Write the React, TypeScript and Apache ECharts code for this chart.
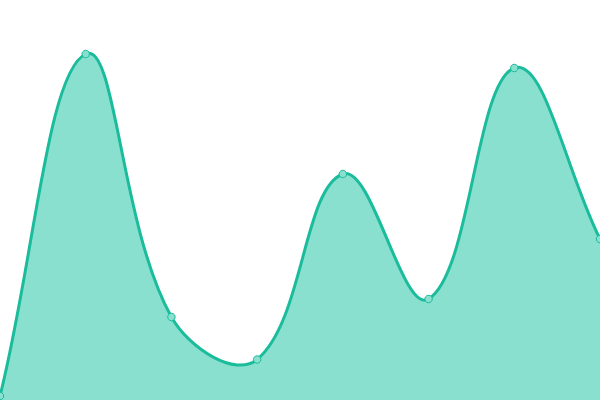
import React from 'react';
import * as echarts from 'echarts';

const categories = ['1', '2', '3', '4', '5', '6', '7', '8'];
const values = [4, 346, 83, 40.5, 226, 101, 332, 161];

const LINE_COLOR = '#1abc9c';
const FILL_COLOR = '#8ae0cf';
const TENSION = 0.4;

// cardinal spline through the points, same as a tension-based bezier line
const splinePath = (pts: number[][]) => {
  const cps = pts.map((cur, i) => {
    const prev = pts[i - 1] || cur;
    const next = pts[i + 1] || cur;
    const d01 = Math.hypot(cur[0] - prev[0], cur[1] - prev[1]);
    const d12 = Math.hypot(next[0] - cur[0], next[1] - cur[1]);
    const sum = d01 + d12 || 1;
    const fa = (TENSION * d01) / sum;
    const fb = (TENSION * d12) / sum;
    return {
      prev: [cur[0] - fa * (next[0] - prev[0]), cur[1] - fa * (next[1] - prev[1])],
      next: [cur[0] + fb * (next[0] - prev[0]), cur[1] + fb * (next[1] - prev[1])],
    };
  });
  let d = `M${pts[0][0]},${pts[0][1]}`;
  for (let i = 1; i < pts.length; i++) {
    const a = cps[i - 1].next;
    const b = cps[i].prev;
    d += ` C${a[0]},${a[1]} ${b[0]},${b[1]} ${pts[i][0]},${pts[i][1]}`;
  }
  return d;
};

const App = () => {
  const chartRef = React.useRef<HTMLDivElement>(null);

  React.useEffect(() => {
    document.body.style.margin = '0';
    const myChart = echarts.init(chartRef.current, null, { renderer: 'svg' });

    myChart.setOption({
      animation: false,
      grid: { left: 0, right: 0, top: 0, bottom: 0 },
      xAxis: {
        type: 'category',
        data: categories,
        boundaryGap: false,
        show: false,
      },
      yAxis: {
        type: 'value',
        min: 0,
        max: 400,
        show: false,
      },
      series: [
        {
          type: 'custom',
          clip: true,
          data: values.map((v, i) => [i, v]),
          renderItem: (params: any, api: any) => {
            if (params.dataIndex !== 0) return null;
            const pts = values.map((v, i) => api.coord([i, v]));
            const line = splinePath(pts);
            const base = api.coord([0, 0])[1];
            const last = pts[pts.length - 1];
            const area = `${line} L${last[0]},${base} L${pts[0][0]},${base} Z`;
            return {
              type: 'group',
              children: [
                { type: 'path', shape: { pathData: area }, style: { fill: FILL_COLOR, stroke: null } },
                {
                  type: 'path',
                  shape: { pathData: line },
                  style: { fill: null, stroke: LINE_COLOR, lineWidth: 3 },
                },
              ],
            };
          },
        },
        {
          type: 'scatter',
          data: values,
          symbol: 'circle',
          symbolSize: 7.5,
          itemStyle: {
            color: FILL_COLOR,
            borderColor: LINE_COLOR,
            borderWidth: 1,
            opacity: 1,
          },
        },
      ],
    });

    return () => {
      myChart.dispose();
    };
  }, []);

  return <div ref={chartRef} style={{ width: '600px', height: '400px' }} />;
};

export default App;
